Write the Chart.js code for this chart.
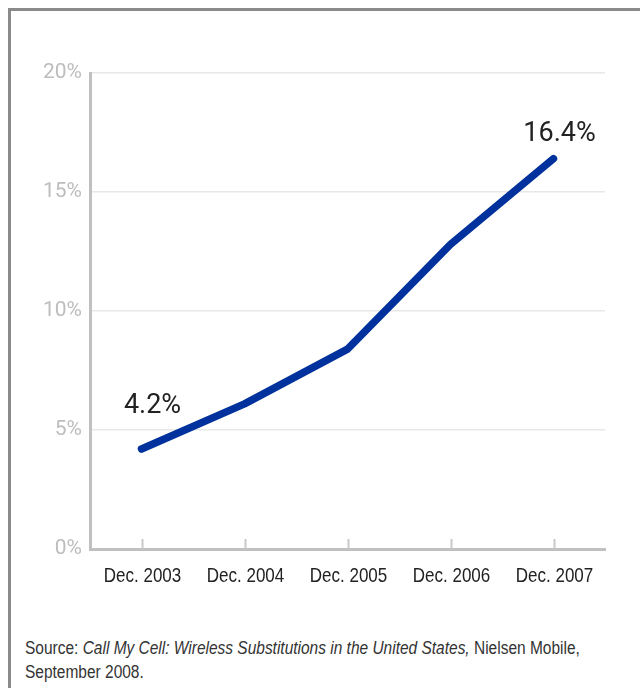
<!DOCTYPE html>
<html>
<head>
<meta charset="utf-8">
<script src="https://cdn.jsdelivr.net/npm/chart.js@4"></script>
<style>
    body { margin: 0; background: #fff; width: 640px; height: 688px; overflow: hidden; position: relative; }
    #frame {
        position: absolute; left: 8px; top: 8px; width: 700px; height: 760px;
        border-left: 3px solid #8a8a8a; border-top: 3px solid #8a8a8a;
    }
    #wrap { position: absolute; left: 0; top: 0; width: 640px; height: 610px; }
    #source {
        position: absolute; left: 25px; top: 636px; width: 700px;
        font-family: 'Liberation Sans', Arial, sans-serif;
        font-size: 18px; line-height: 24px; color: #333;
        transform: scaleX(0.86); transform-origin: left top;
    }
</style>
</head>
<body>
<div id="frame"></div>
<div id="wrap"><canvas id="myChart" width="640" height="610"></canvas></div>
<div id="source">Source: <i>Call My Cell: Wireless Substitutions in the United States,</i> Nielsen Mobile,<br>September 2008.</div>
<script>
let categories = ['Dec. 2003', 'Dec. 2004', 'Dec. 2005', 'Dec. 2006', 'Dec. 2007']
let wirelessOnly = [4.2, 6.1, 8.4, 12.8, 16.4]
let yTicks = [0, 5, 10, 15, 20]

// end-point labels, condensed x labels and the little inward tick marks
let extras = {
    id: 'extras',
    afterDatasetsDraw(chart) {
        let ctx = chart.ctx
        let x = chart.scales.x
        let area = chart.chartArea
        ctx.save()
        ctx.strokeStyle = '#c8c8c8'
        ctx.lineWidth = 2
        categories.forEach((c, i) => {
            let px = Math.round(x.getPixelForTick(i)) + 0.5
            ctx.beginPath()
            ctx.moveTo(px, area.bottom)
            ctx.lineTo(px, area.bottom - 10)
            ctx.stroke()

            // narrow label, squeezed like the condensed face in the original
            ctx.save()
            ctx.translate(px, area.bottom + 27)
            ctx.scale(0.81, 1)
            ctx.fillStyle = '#222'
            ctx.font = '21px "Liberation Sans", Arial, sans-serif'
            ctx.textAlign = 'center'
            ctx.textBaseline = 'middle'
            ctx.fillText(c, 0, 0)
            ctx.restore()
        })
        let pts = chart.getDatasetMeta(0).data
        ctx.fillStyle = '#222'
        ctx.font = '27px Roboto, "Liberation Sans", sans-serif'
        ctx.textAlign = 'center'
        ctx.textBaseline = 'middle'
        let first = pts[0]
        let last = pts[pts.length - 1]
        ctx.fillText(wirelessOnly[0] + '%', first.x + 11, first.y - 43)
        ctx.fillText(wirelessOnly[wirelessOnly.length - 1] + '%', last.x + 6, last.y - 24)
        ctx.restore()
    }
}

let ctx = document.getElementById('myChart').getContext('2d')
let chart = new Chart(ctx, {
    type: 'line',
    data: {
        labels: categories,
        datasets: [{
            data: wirelessOnly,
            borderColor: '#00319c',
            borderWidth: 7.5,
            borderCapStyle: 'round',
            borderJoinStyle: 'round',
            pointRadius: 0,
            tension: 0
        }]
    },
    options: {
        responsive: false,
        animation: { duration: 0 },
        layout: { padding: { left: 0, right: 35, top: 73, bottom: 0 } },
        plugins: { legend: { display: false }, tooltip: { enabled: false } },
        scales: {
            x: {
                offset: true,
                grid: { display: false, drawTicks: false },
                border: { color: '#c0c0c0', width: 3 },
                ticks: { display: false },
                afterFit(scale) { scale.height = 61 }
            },
            y: {
                min: 0,
                max: 20,
                afterBuildTicks(scale) { scale.ticks = yTicks.map(v => ({ value: v })) },
                grid: { color: '#e8e8e8', lineWidth: 1.5, drawTicks: false },
                border: { color: '#c0c0c0', width: 3 },
                ticks: {
                    padding: 8,
                    color: '#bdbdbd',
                    font: { family: 'Roboto, "Liberation Sans", sans-serif', size: 21 },
                    callback: v => v + '%'
                },
                afterFit(scale) { scale.width = 90 }
            }
        }
    },
    plugins: [extras]
})
</script>
</body>
</html>
